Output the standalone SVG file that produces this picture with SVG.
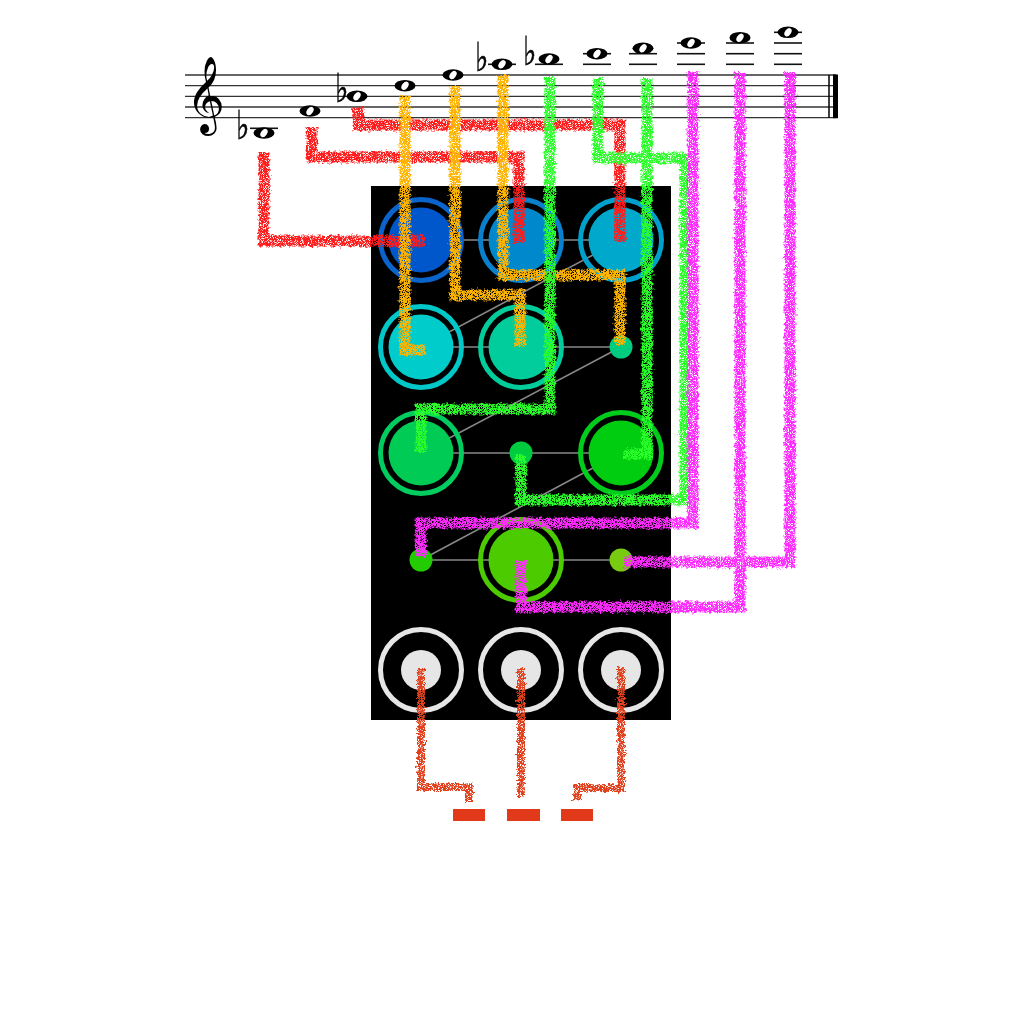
<svg xmlns="http://www.w3.org/2000/svg" width="1024" height="1024" viewBox="0 0 1024 1024">
<style>
.staff{stroke:#333;stroke-width:1.3}
.ledger{stroke:#111;stroke-width:1.6}
.edge{stroke:#888;stroke-width:1.6;fill:none}
.ring{fill:none;stroke-width:5}
.wire{fill:none;stroke-width:11;stroke-linecap:butt;stroke-linejoin:miter}
.flat{font-family:"DejaVu Sans",sans-serif;font-size:40px;fill:#000;stroke:#000;stroke-width:0.6}
.clef{font-family:"DejaVu Sans","Noto Sans",sans-serif;font-size:66px;fill:#000}
</style>
<defs>
<filter id="spray" filterUnits="userSpaceOnUse" x="0" y="0" width="1024" height="1024">
<feTurbulence type="fractalNoise" baseFrequency="0.35" numOctaves="2" seed="2" result="warp"/>
<feDisplacementMap in="SourceGraphic" in2="warp" scale="6" xChannelSelector="R" yChannelSelector="G" result="wob"/>
<feTurbulence type="fractalNoise" baseFrequency="1.4" numOctaves="1" seed="5" result="grain"/>
<feColorMatrix in="grain" type="matrix" values="0 0 0 0 0 0 0 0 0 0 0 0 0 0 0 0 0 0 7 -2.4" result="mask"/>
<feComposite in="wob" in2="mask" operator="in"/>
</filter>
<g id="wn">
<ellipse cx="0" cy="0" rx="10.5" ry="5.8" fill="#000"/>
<ellipse cx="0" cy="0" rx="3" ry="4.6" fill="#fff" transform="rotate(35)"/>
</g>
</defs>
<rect width="1024" height="1024" fill="#fff"/>

<g id="staff">
<line class="staff" x1="185" y1="75" x2="836" y2="75"/>
<line class="staff" x1="185" y1="85.7" x2="836" y2="85.7"/>
<line class="staff" x1="185" y1="96.3" x2="836" y2="96.3"/>
<line class="staff" x1="185" y1="107" x2="836" y2="107"/>
<line class="staff" x1="185" y1="117.7" x2="836" y2="117.7"/>
<line x1="829" y1="75" x2="829" y2="117.7" stroke="#000" stroke-width="1.5"/>
<rect x="833" y="74.5" width="5" height="43.7" fill="#000"/>
<text class="clef" x="186" y="117">𝄞</text>
</g>

<g id="notes">
<g opacity="0.99">
<text class="flat" transform="translate(236,139) scale(0.7,1)">♭</text>
<text class="flat" transform="translate(335,102) scale(0.7,1)">♭</text>
<text class="flat" transform="translate(475,71) scale(0.7,1)">♭</text>
<text class="flat" transform="translate(523,65) scale(0.7,1)">♭</text>
</g>
<line class="ledger" x1="250" y1="128.3" x2="278" y2="128.3"/>
<use href="#wn" x="264" y="133"/>
<use href="#wn" x="310" y="111"/>
<use href="#wn" x="357" y="96.3"/>
<use href="#wn" x="405" y="85.7"/>
<use href="#wn" x="453" y="75"/>
<line class="ledger" x1="488" y1="64.3" x2="516" y2="64.3"/>
<use href="#wn" x="502" y="64.3"/>
<line class="ledger" x1="535" y1="64.3" x2="563" y2="64.3"/>
<use href="#wn" x="549" y="59"/>
<line class="ledger" x1="583" y1="64.3" x2="611" y2="64.3"/>
<line class="ledger" x1="583" y1="53.7" x2="611" y2="53.7"/>
<use href="#wn" x="597" y="53.7"/>
<line class="ledger" x1="629" y1="64.3" x2="657" y2="64.3"/>
<line class="ledger" x1="629" y1="53.7" x2="657" y2="53.7"/>
<use href="#wn" x="643" y="48.3"/>
<line class="ledger" x1="677" y1="64.3" x2="705" y2="64.3"/>
<line class="ledger" x1="677" y1="53.7" x2="705" y2="53.7"/>
<line class="ledger" x1="677" y1="43" x2="705" y2="43"/>
<use href="#wn" x="691" y="43"/>
<line class="ledger" x1="726" y1="64.3" x2="754" y2="64.3"/>
<line class="ledger" x1="726" y1="53.7" x2="754" y2="53.7"/>
<line class="ledger" x1="726" y1="43" x2="754" y2="43"/>
<use href="#wn" x="740" y="37.7"/>
<line class="ledger" x1="774" y1="64.3" x2="802" y2="64.3"/>
<line class="ledger" x1="774" y1="53.7" x2="802" y2="53.7"/>
<line class="ledger" x1="774" y1="43" x2="802" y2="43"/>
<line class="ledger" x1="774" y1="32.3" x2="802" y2="32.3"/>
<use href="#wn" x="788" y="32.3"/>
</g>

<rect id="panel" x="371" y="186" width="300" height="534" fill="#000"/>

<g id="edges">
<line class="edge" x1="421" y1="240" x2="621" y2="240"/>
<line class="edge" x1="421" y1="347" x2="621" y2="347"/>
<line class="edge" x1="421" y1="453" x2="621" y2="453"/>
<line class="edge" x1="421" y1="560" x2="621" y2="560"/>
<line class="edge" x1="421" y1="347" x2="621" y2="240"/>
<line class="edge" x1="421" y1="453" x2="621" y2="347"/>
<line class="edge" x1="421" y1="560" x2="621" y2="453"/>
</g>

<g id="n-r1c1"><circle class="ring" cx="421" cy="240" r="40.5" stroke="#0a64cc"/><circle cx="421" cy="240" r="32.5" fill="#0057cc"/></g>
<g id="n-r1c2"><circle class="ring" cx="521" cy="240" r="40.5" stroke="#0a80cc"/><circle cx="521" cy="240" r="32.5" fill="#0088cc"/></g>
<g id="n-r1c3"><circle class="ring" cx="621" cy="240" r="40.5" stroke="#00a0cc"/><circle cx="621" cy="240" r="32.5" fill="#00a8cc"/></g>
<g id="n-r2c1"><circle class="ring" cx="421" cy="347" r="40.5" stroke="#00c8c8"/><circle cx="421" cy="347" r="32.5" fill="#00cccc"/></g>
<g id="n-r2c2"><circle class="ring" cx="521" cy="347" r="40.5" stroke="#00cc9c"/><circle cx="521" cy="347" r="32.5" fill="#00cc9c"/></g>
<g id="n-r2c3"><circle cx="621" cy="347" r="11.5" fill="#00cc80"/></g>
<g id="n-r3c1"><circle class="ring" cx="421" cy="453" r="40.5" stroke="#00cc60"/><circle cx="421" cy="453" r="32.5" fill="#00cc55"/></g>
<g id="n-r3c2"><circle cx="521" cy="453" r="11.5" fill="#00cc40"/></g>
<g id="n-r3c3"><circle class="ring" cx="621" cy="453" r="40.5" stroke="#00cc1c"/><circle cx="621" cy="453" r="32.5" fill="#00cc10"/></g>
<g id="n-r4c1"><circle cx="421" cy="560" r="11.5" fill="#22cc00"/></g>
<g id="n-r4c2"><circle class="ring" cx="521" cy="560" r="40.5" stroke="#4ccc00"/><circle cx="521" cy="560" r="32.5" fill="#4ccc00"/></g>
<g id="n-r4c3"><circle cx="621" cy="560" r="11.5" fill="#77cc11"/></g>
<g id="n-out1"><circle class="ring" cx="421" cy="670" r="40.5" stroke="#e6e6e6" stroke-width="6"/><circle cx="421" cy="670" r="20" fill="#e6e6e6"/></g>
<g id="n-out2"><circle class="ring" cx="521" cy="670" r="40.5" stroke="#e6e6e6" stroke-width="6"/><circle cx="521" cy="670" r="20" fill="#e6e6e6"/></g>
<g id="n-out3"><circle class="ring" cx="621" cy="670" r="40.5" stroke="#e6e6e6" stroke-width="6"/><circle cx="621" cy="670" r="20" fill="#e6e6e6"/></g>

<g id="outputs">
<rect x="453" y="809" width="32" height="12" fill="#e2391a"/>
<rect x="507" y="809" width="33" height="12" fill="#e2391a"/>
<rect x="561" y="809" width="32" height="12" fill="#e2391a"/>
</g>

<g id="connectors">
<g filter="url(#spray)" stroke="#ff1c1c">
<path class="wire" d="M264 152 V241 H425"/>
<path class="wire" d="M312 127 V157 H519 V243"/>
<path class="wire" d="M358 107 V125 H620 V242"/>
</g>
<g filter="url(#spray)" stroke="#ffb400">
<path class="wire" d="M405 96 V350 H426"/>
<path class="wire" d="M455 86 V295 H520 V347"/>
<path class="wire" d="M503 75 V275 H620 V345"/>
</g>
<g filter="url(#spray)" stroke="#2cff2c">
<path class="wire" d="M550 77 V409 H421 V452"/>
<path class="wire" d="M598 78 V158 H685 V500 H521 V455"/>
<path class="wire" d="M647 78 V454 H624"/>
</g>
<g filter="url(#spray)" stroke="#ff2cff">
<path class="wire" d="M693 72 V523 H421 V557"/>
<path class="wire" d="M740 72 V607 H521 V560"/>
<path class="wire" d="M790 72 V562 H624"/>
</g>
<g filter="url(#spray)" stroke="#e0401e">
<path class="wire" style="stroke-width:8" d="M421 668 V787 H469 V802"/>
<path class="wire" style="stroke-width:8" d="M521 668 V797"/>
<path class="wire" style="stroke-width:8" d="M621 668 V788 H577 V800"/>
</g>
</g>
</svg>
